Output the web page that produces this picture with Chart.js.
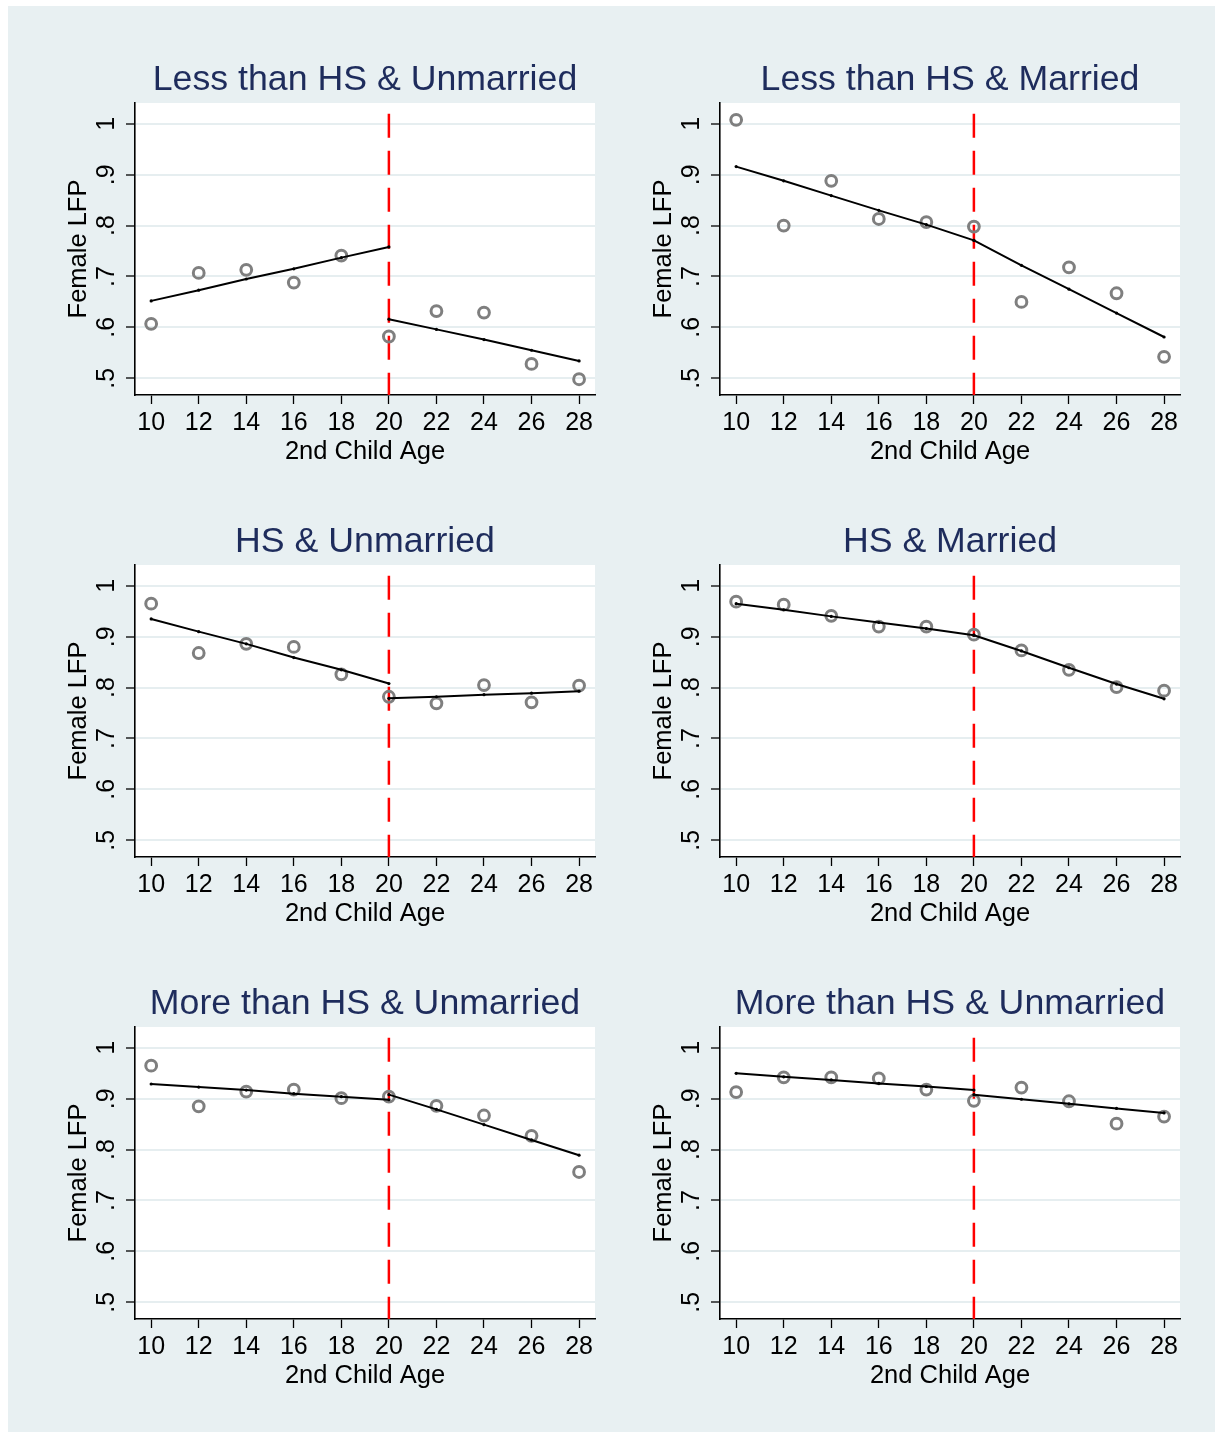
<!DOCTYPE html>
<html>
<head>
<meta charset="utf-8">
<script src="https://cdn.jsdelivr.net/npm/chart.js@4.4.1/dist/chart.umd.min.js"></script>
<style>
  html, body { margin: 0; padding: 0; background: #ffffff; }
  #page { position: relative; width: 1223px; height: 1439px; background: #ffffff; }
  #bg { position: absolute; left: 8px; top: 6px; width: 1207px; height: 1426px; background: #e8f0f2; }
  canvas { position: absolute; }
</style>
</head>
<body>
<div id="page">
  <div id="bg"></div>
</div>
<script>
// ---- data ----
const ages = [10, 12, 14, 16, 18, 20, 22, 24, 26, 28];
const leftAges = [10, 12, 14, 16, 18, 20];
const rightAges = [20, 22, 24, 26, 28];
const cutoffAge = 20;
const xTicks = [10, 12, 14, 16, 18, 20, 22, 24, 26, 28];
const yTicks = [0.5, 0.6, 0.7, 0.8, 0.9, 1.0];
const yTickLabels = ['.5', '.6', '.7', '.8', '.9', '1'];

const titles = [
  'Less than HS & Unmarried',
  'Less than HS & Married',
  'HS & Unmarried',
  'HS & Married',
  'More than HS & Unmarried',
  'More than HS & Unmarried'
];

const obsLessUnmarried = [0.607, 0.707, 0.713, 0.688, 0.741, 0.582, 0.632, 0.629, 0.528, 0.498];
const fitLeftLessUnmarried = [0.652, 0.673, 0.695, 0.715, 0.737, 0.758];
const fitRightLessUnmarried = [0.616, 0.596, 0.576, 0.555, 0.534];

const obsLessMarried = [1.008, 0.800, 0.888, 0.813, 0.807, 0.798, 0.650, 0.718, 0.667, 0.542];
const fitLeftLessMarried = [0.916, 0.888, 0.859, 0.830, 0.802, 0.771];
const fitRightLessMarried = [0.771, 0.722, 0.675, 0.628, 0.581];

const obsHSUnmarried = [0.965, 0.868, 0.886, 0.880, 0.826, 0.782, 0.769, 0.805, 0.771, 0.804];
const fitLeftHSUnmarried = [0.935, 0.910, 0.886, 0.859, 0.835, 0.808];
const fitRightHSUnmarried = [0.779, 0.782, 0.786, 0.789, 0.793];

const obsHSMarried = [0.969, 0.963, 0.941, 0.920, 0.920, 0.904, 0.873, 0.835, 0.801, 0.794];
const fitLeftHSMarried = [0.965, 0.953, 0.940, 0.928, 0.916, 0.903];
const fitRightHSMarried = [0.903, 0.872, 0.839, 0.807, 0.778];

const obsMoreUnmarriedA = [0.965, 0.885, 0.914, 0.918, 0.901, 0.904, 0.886, 0.867, 0.827, 0.756];
const fitLeftMoreUnmarriedA = [0.929, 0.923, 0.917, 0.910, 0.904, 0.898];
const fitRightMoreUnmarriedA = [0.908, 0.879, 0.849, 0.819, 0.789];

const obsMoreUnmarriedB = [0.913, 0.942, 0.942, 0.940, 0.918, 0.896, 0.922, 0.895, 0.851, 0.865];
const fitLeftMoreUnmarriedB = [0.950, 0.943, 0.937, 0.930, 0.924, 0.917];
const fitRightMoreUnmarriedB = [0.908, 0.899, 0.890, 0.881, 0.872];

// ---- build ----
const panels = [
  { title: titles[0], obs: obsLessUnmarried, fitL: fitLeftLessUnmarried, fitR: fitRightLessUnmarried },
  { title: titles[1], obs: obsLessMarried, fitL: fitLeftLessMarried, fitR: fitRightLessMarried },
  { title: titles[2], obs: obsHSUnmarried, fitL: fitLeftHSUnmarried, fitR: fitRightHSUnmarried },
  { title: titles[3], obs: obsHSMarried, fitL: fitLeftHSMarried, fitR: fitRightHSMarried },
  { title: titles[4], obs: obsMoreUnmarriedA, fitL: fitLeftMoreUnmarriedA, fitR: fitRightMoreUnmarriedA },
  { title: titles[5], obs: obsMoreUnmarriedB, fitL: fitLeftMoreUnmarriedB, fitR: fitRightMoreUnmarriedB }
];

const X_MIN = 9.32, X_MAX = 28.67;
const Y_MIN = 0.467, Y_MAX = 1.041;
const XLINE_TOP = 1.02;
const FAMILY = '"Liberation Sans", Arial, Helvetica, sans-serif';

const pts = (xs, ys) => xs.map((x, i) => ({ x: x, y: ys[i] }));

const plotBg = {
  id: 'plotBg',
  beforeDraw(chart) {
    const { ctx, chartArea: a } = chart;
    ctx.save();
    ctx.fillStyle = '#ffffff';
    ctx.fillRect(a.left, a.top, a.right - a.left, a.bottom - a.top);
    ctx.restore();
  }
};

const CW = 580, CH = 462;
const page = document.getElementById('page');

panels.forEach((p, idx) => {
  const col = idx % 2, row = Math.floor(idx / 2);
  const cv = document.createElement('canvas');
  cv.width = CW; cv.height = CH;
  cv.style.left = (col === 0 ? 20 : 605) + 'px';
  cv.style.top = (6 + row * 462) + 'px';
  cv.style.width = CW + 'px'; cv.style.height = CH + 'px';
  page.appendChild(cv);

  const lineDs = (xs, ys, ord) => ({
    data: pts(xs, ys), showLine: true, borderColor: '#000000', borderWidth: 2,
    pointRadius: 1.6, pointBackgroundColor: '#000000', pointBorderWidth: 0, order: ord
  });

  new Chart(cv, {
    type: 'scatter',
    data: {
      datasets: [
        lineDs(leftAges, p.fitL, 0),
        lineDs(rightAges, p.fitR, 1),
        {
          data: pts(ages, p.obs), showLine: false, pointRadius: 5.4, pointBorderWidth: 3,
          borderColor: '#7f7f7f', pointBorderColor: '#7f7f7f', pointBackgroundColor: 'rgba(0,0,0,0)',
          backgroundColor: 'rgba(0,0,0,0)', order: 2
        },
        {
          data: [{ x: cutoffAge, y: XLINE_TOP }, { x: cutoffAge, y: Y_MIN }],
          showLine: true, borderColor: '#ff0000', borderWidth: 2.5, borderDash: [24, 13],
          pointRadius: 0, order: 3
        }
      ]
    },
    options: {
      responsive: false, animation: false, devicePixelRatio: 1, events: [],
      layout: { autoPadding: false, padding: { left: 0, right: 5, top: 0, bottom: 0 } },
      plugins: {
        legend: { display: false }, tooltip: { enabled: false },
        title: {
          display: true, text: p.title, color: '#1e2c5c', fullSize: false,
          font: { family: FAMILY, size: 35.7, weight: 'normal' },
          padding: { top: 53, bottom: 1.16 }
        }
      },
      scales: {
        x: {
          type: 'linear', min: X_MIN, max: X_MAX,
          afterBuildTicks: s => { s.ticks = xTicks.map(v => ({ value: v })); },
          afterFit: s => { s.height = 73; s.paddingLeft = 0; s.paddingRight = 0; },
          ticks: {
            color: '#000', font: { family: FAMILY, size: 25 }, padding: 4.5,
            autoSkip: false, minRotation: 0, maxRotation: 0,
            callback: v => String(v)
          },
          grid: { drawOnChartArea: false, drawTicks: true, tickLength: 9, tickColor: '#000', tickWidth: 1.3 },
          border: { color: '#000', width: 1.6 },
          title: { display: true, text: '2nd Child Age', color: '#000', font: { family: FAMILY, size: 25.5 }, padding: { top: 0, bottom: 1 } }
        },
        y: {
          type: 'linear', min: Y_MIN, max: Y_MAX,
          afterBuildTicks: s => { s.ticks = yTicks.map(v => ({ value: v })); },
          afterFit: s => { s.width = 115; s.paddingTop = 0; s.paddingBottom = 0; },
          ticks: {
            color: '#000', font: { family: FAMILY, size: 25 }, padding: 8,
            minRotation: 90, maxRotation: 90, crossAlign: 'center', autoSkip: false,
            callback: (v, i) => yTickLabels[i]
          },
          grid: { color: '#e6eef0', lineWidth: 2, drawTicks: true, tickLength: 9, tickColor: '#000', tickWidth: 1.3 },
          border: { color: '#000', width: 1.6 },
          title: { display: true, text: 'Female LFP', color: '#000', font: { family: FAMILY, size: 25.5 }, padding: { top: 44, bottom: 0 } }
        }
      }
    },
    plugins: [plotBg]
  });
});
</script>
</body>
</html>
